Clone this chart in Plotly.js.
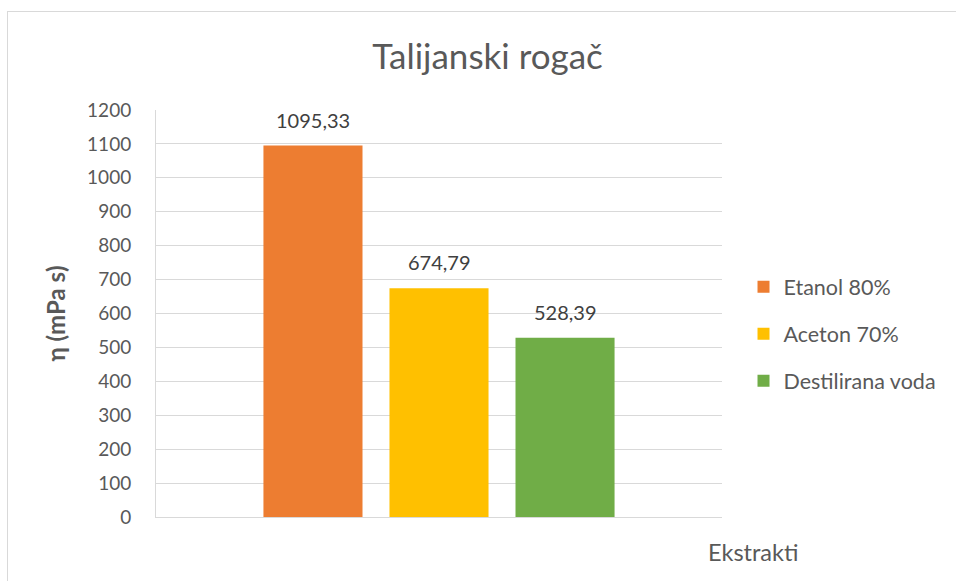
<!DOCTYPE html>
<html><head><meta charset="utf-8">
<script src="https://cdn.plot.ly/plotly-3.0.1.min.js"></script>
<style>
html,body{margin:0;padding:0;background:#fff;}
#wrap{position:relative;width:956px;height:581px;overflow:hidden;}
#frame{position:absolute;left:7px;top:11px;width:1000px;height:700px;border:1px solid #d9d9d9;box-sizing:border-box;pointer-events:none;}
#chart{position:absolute;left:0;top:0;width:956px;height:581px;}
</style></head>
<body><div id="wrap"><div id="chart"></div><div id="frame"></div></div>
<script>
const categories = ["Ekstrakti"];
const seriesNames = ["Etanol 80%", "Aceton 70%", "Destilirana voda"];
const seriesValues = [[1095.33], [674.79], [528.39]];
const seriesColors = ["#ed7d31", "#ffc000", "#70ad47"];
const yTicks = [0,100,200,300,400,500,600,700,800,900,1000,1100,1200];

const font = "Lato, 'Open Sans', sans-serif";
const bargap = 0.332, bargroupgap = 0.214;
const slot = (1 - bargap) / seriesNames.length;

const traces = seriesNames.map((n,i)=>({
  type:'bar', name:n, x:[0], y:seriesValues[i],
  marker:{color:seriesColors[i]},
  legendgroup:'g'+i, hoverinfo:'skip'
}));
const fmt = v => v.toFixed(2).replace('.', ',');
const labelAnns = seriesNames.map((n,i)=>({
  xref:'x', yref:'y', x:(i - (seriesNames.length-1)/2)*slot, y:seriesValues[i][0],
  text:fmt(seriesValues[i][0]), showarrow:false, yanchor:'bottom', yshift:12,
  font:{family:font,size:20,color:'#404040'}
}));
const layout = {
  width:956, height:581,
  margin:{l:156, r:234, t:110, b:64},
  paper_bgcolor:'#fff', plot_bgcolor:'#fff',
  barmode:'group', bargap:bargap, bargroupgap:bargroupgap,
  showlegend:true,
  title:{text:'Talijanski rogač', x:0.51, xanchor:'center', y:0.902, yanchor:'middle', font:{family:font,size:35,color:'#595959'}},
  xaxis:{range:[-0.5,0.5], showticklabels:false, showgrid:false, zeroline:false, showline:true, linecolor:'#d9d9d9', linewidth:1, fixedrange:true},
  yaxis:{range:[0,1200], tickvals:yTicks, ticktext:yTicks.map(String), showgrid:true, gridcolor:'#d9d9d9', gridwidth:1,
    zeroline:false, showline:true, linecolor:'#d9d9d9', linewidth:1, ticks:'', ticklabelstandoff:20,
    tickfont:{family:font,size:19,color:'#595959'},
    title:{text:'<b>η (mPa s)</b>', standoff:14, font:{family:font,size:24,color:'#595959'}}},
  legend:{x:1.038, xanchor:'left', y:0.45, yanchor:'middle', traceorder:'grouped', tracegroupgap:16,
    font:{family:font,size:21.5,color:'#595959'}, itemwidth:30},
  annotations:labelAnns.concat([{text:'Ekstrakti', xref:'paper', yref:'paper', x:1.0, xanchor:'left', y:-0.085, yanchor:'middle',
    showarrow:false, font:{family:font,size:23.5,color:'#595959'}, xshift:-16}])
};
Plotly.newPlot('chart', traces, layout, {displayModeBar:false, staticPlot:true});
</script></body></html>
